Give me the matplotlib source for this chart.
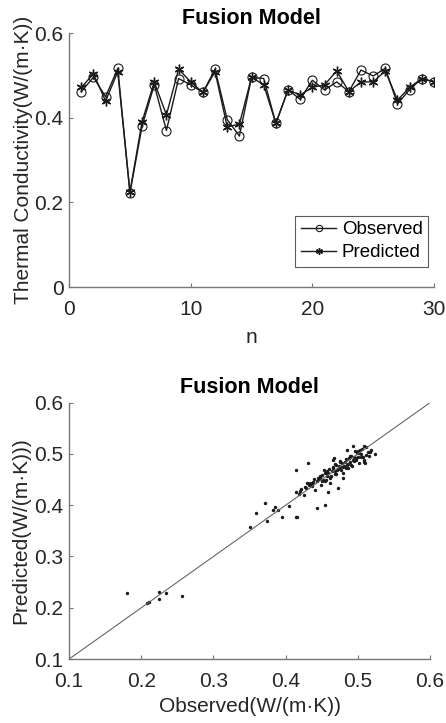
import matplotlib
matplotlib.use("Agg")
import matplotlib.pyplot as plt
import numpy as np

plt.rcParams['font.family'] = ['Liberation Sans', 'DejaVu Sans']

# ---- top panel data ----
n = list(range(1, 31))
observed = [0.462, 0.496, 0.450, 0.517, 0.222, 0.381, 0.478, 0.370, 0.493, 0.478,
            0.460, 0.515, 0.396, 0.357, 0.496, 0.493, 0.387, 0.466, 0.444, 0.489,
            0.466, 0.485, 0.462, 0.513, 0.499, 0.517, 0.433, 0.467, 0.493, 0.485]
predicted = [0.472, 0.504, 0.440, 0.509, 0.225, 0.391, 0.485, 0.407, 0.515, 0.485,
             0.460, 0.509, 0.379, 0.385, 0.496, 0.478, 0.387, 0.466, 0.454, 0.472,
             0.478, 0.511, 0.462, 0.485, 0.485, 0.511, 0.442, 0.472, 0.493, 0.485]

# ---- bottom panel data ----
obs_s = [0.180, 0.208, 0.211, 0.225, 0.224, 0.234, 0.257,
         0.351, 0.359, 0.372, 0.374, 0.382, 0.385, 0.390, 0.395, 0.404, 0.414, 0.416,
         0.414, 0.415, 0.420, 0.425, 0.431, 0.429, 0.434, 0.436, 0.441, 0.444, 0.445,
         0.448, 0.449, 0.452, 0.453, 0.455, 0.457, 0.459, 0.461, 0.459, 0.462, 0.464,
         0.466, 0.466, 0.467, 0.468, 0.471, 0.473, 0.474, 0.478, 0.479, 0.480, 0.482,
         0.485, 0.485, 0.487, 0.489, 0.492, 0.494, 0.495, 0.496, 0.498, 0.501, 0.502,
         0.503, 0.505, 0.508, 0.508, 0.510, 0.512, 0.517, 0.519, 0.524,
         0.418, 0.422, 0.427, 0.432, 0.438, 0.440, 0.443, 0.447, 0.450, 0.451, 0.454,
         0.456, 0.458, 0.460, 0.463, 0.465, 0.469, 0.470, 0.472, 0.475, 0.476, 0.477,
         0.481, 0.483, 0.484, 0.486, 0.488, 0.490, 0.491, 0.493, 0.497, 0.499, 0.500,
         0.504, 0.506, 0.509, 0.511, 0.514, 0.515, 0.470, 0.462, 0.455, 0.446, 0.437,
         0.428, 0.480, 0.489, 0.495, 0.500, 0.507, 0.476, 0.468, 0.458, 0.447]
pred_s = [0.228, 0.209, 0.212, 0.231, 0.217, 0.228, 0.223,
          0.357, 0.385, 0.404, 0.370, 0.390, 0.397, 0.391, 0.377, 0.399, 0.378, 0.377,
          0.468, 0.425, 0.427, 0.420, 0.483, 0.444, 0.443, 0.437, 0.430, 0.394, 0.453,
          0.457, 0.440, 0.450, 0.469, 0.401, 0.457, 0.463, 0.443, 0.425, 0.453, 0.466,
          0.472, 0.489, 0.493, 0.461, 0.469, 0.433, 0.476, 0.482, 0.463, 0.453, 0.485,
          0.479, 0.508, 0.472, 0.485, 0.476, 0.515, 0.495, 0.505, 0.489, 0.502, 0.482,
          0.508, 0.495, 0.485, 0.516, 0.482, 0.498, 0.503, 0.507, 0.500,
          0.421, 0.432, 0.436, 0.440, 0.446, 0.452, 0.447, 0.455, 0.459, 0.448, 0.462,
          0.450, 0.466, 0.470, 0.458, 0.475, 0.466, 0.478, 0.470, 0.474, 0.486, 0.468,
          0.476, 0.490, 0.472, 0.481, 0.492, 0.479, 0.497, 0.488, 0.493, 0.501, 0.494,
          0.499, 0.510, 0.488, 0.513, 0.504, 0.496, 0.461, 0.456, 0.448, 0.451, 0.441,
          0.434, 0.474, 0.496, 0.487, 0.506, 0.494, 0.484, 0.480, 0.463, 0.455]

line_color = '#1a1a1a'
spine_color = '#777777'
text_color = '#262626'
FS = 15
LFS = 13.5

fig = plt.figure(figsize=(4.46, 7.23), dpi=100)

def style_axes(ax):
    for s in ['top', 'right']:
        ax.spines[s].set_visible(False)
    for s in ['left', 'bottom']:
        ax.spines[s].set_color(spine_color)
        ax.spines[s].set_linewidth(1.0)
    ax.tick_params(direction='in', length=3, width=0.8, colors=spine_color,
                   labelcolor=text_color, labelsize=FS)
    ax.tick_params(axis='x', pad=9)
    ax.tick_params(axis='y', pad=4)

asterisk = (6, 2, 0)

# ---- top ----
ax1 = fig.add_axes([0.155, 0.603, 0.818, 0.351])
ax1.plot(n, observed, '-', marker='o', color=line_color, lw=1.0, markersize=6.5,
         markerfacecolor='none', markeredgewidth=0.8, label='Observed')
ax1.plot(n, predicted, '-', marker=asterisk, color=line_color, lw=1.0, markersize=7,
         markeredgewidth=1.0, label='Predicted')
ax1.set_xlim(0, 30)
ax1.set_ylim(0, 0.6)
ax1.set_xticks([0, 10, 20, 30])
ax1.set_yticks([0, 0.2, 0.4, 0.6])
ax1.set_yticklabels(['0', '0.2', '0.4', '0.6'])
style_axes(ax1)
ax1.set_title('Fusion Model', fontsize=15.5, fontweight='bold', color='black', pad=7)
ax1.set_xlabel('n', fontsize=FS, color=text_color, labelpad=7)
ax1.set_ylabel('Thermal Conductivity(W/(m·K))', fontsize=FS, color=text_color, labelpad=1)
leg = ax1.legend(loc='lower right', fontsize=LFS, frameon=True, fancybox=False,
                 handlelength=1.9, handletextpad=0.3, borderpad=0.3,
                 labelspacing=0.3, markerscale=0.7, bbox_to_anchor=(0.985, 0.08),
                 borderaxespad=0.0)
leg.get_frame().set_edgecolor('#333333')
leg.get_frame().set_linewidth(0.8)

# ---- bottom ----
ax2 = fig.add_axes([0.155, 0.0885, 0.809, 0.3545])
ax2.plot([0.1, 0.6], [0.1, 0.6], '-', color='#666666', lw=0.8)
ax2.scatter(obs_s, pred_s, s=6, color='#1a1a1a', linewidths=0)
ax2.set_xlim(0.1, 0.6)
ax2.set_ylim(0.1, 0.6)
ticks = [0.1, 0.2, 0.3, 0.4, 0.5, 0.6]
ax2.set_xticks(ticks)
ax2.set_yticks(ticks)
style_axes(ax2)
ax2.set_title('Fusion Model', fontsize=15.5, fontweight='bold', color='black', pad=7)
ax2.set_xlabel('Observed(W/(m·K))', fontsize=FS, color=text_color, labelpad=5)
ax2.set_ylabel('Predicted(W/(m·K)))', fontsize=FS, color=text_color, labelpad=3)

fig.savefig('out.png', dpi=100)
